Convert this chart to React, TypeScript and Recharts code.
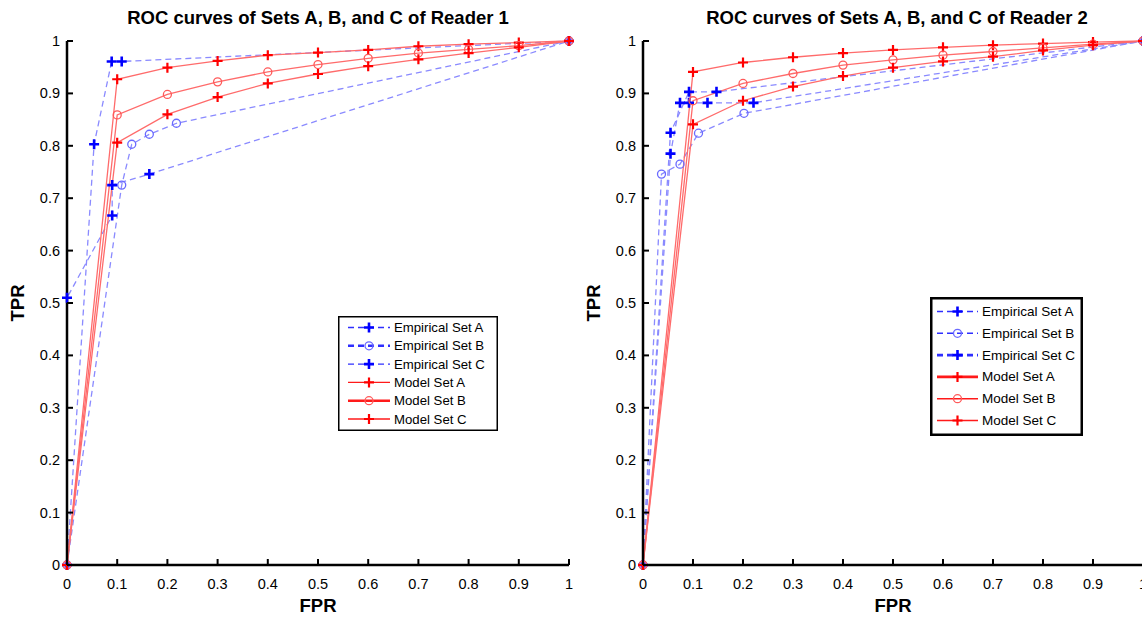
import { Legend, Line, LineChart, XAxis, YAxis } from "recharts"

const FONT = '"Liberation Sans", Arial, Helvetica, sans-serif'

const TICKS = [0, 0.1, 0.2, 0.3, 0.4, 0.5, 0.6, 0.7, 0.8, 0.9, 1]
const TICK_LABELS = ["0", "0.1", "0.2", "0.3", "0.4", "0.5", "0.6", "0.7", "0.8", "0.9", "1"]

const LEGEND_LABELS = [
  "Empirical Set A",
  "Empirical Set B",
  "Empirical Set C",
  "Model Set A",
  "Model Set B",
  "Model Set C",
]

// model curves share the same FPR grid
const MODEL_FPR = [0, 0.1, 0.2, 0.3, 0.4, 0.5, 0.6, 0.7, 0.8, 0.9, 1]

// Reader 1
const R1_MODEL_A = [0, 0.927, 0.949, 0.962, 0.973, 0.978, 0.983, 0.99, 0.994, 0.997, 1]
const R1_MODEL_B = [0, 0.859, 0.898, 0.922, 0.941, 0.955, 0.967, 0.977, 0.984, 0.991, 1]
const R1_MODEL_C = [0, 0.806, 0.86, 0.893, 0.919, 0.937, 0.952, 0.965, 0.977, 0.988, 1]
const R1_EMP_A: [number, number][] = [[0, 0], [0.054, 0.803], [0.089, 0.961], [0.109, 0.961], [1, 1]]
const R1_EMP_B: [number, number][] = [[0, 0], [0.109, 0.725], [0.129, 0.803], [0.164, 0.822], [0.218, 0.843], [1, 1]]
const R1_EMP_C: [number, number][] = [[0, 0], [0, 0.51], [0.09, 0.667], [0.09, 0.725], [0.164, 0.746], [1, 1]]

// Reader 2
const R2_MODEL_A = [0, 0.941, 0.959, 0.969, 0.977, 0.983, 0.988, 0.992, 0.995, 0.998, 1]
const R2_MODEL_B = [0, 0.886, 0.919, 0.938, 0.954, 0.964, 0.973, 0.98, 0.987, 0.994, 1]
const R2_MODEL_C = [0, 0.841, 0.886, 0.913, 0.933, 0.949, 0.961, 0.97, 0.982, 0.992, 1]
const R2_EMP_A: [number, number][] = [[0, 0], [0.055, 0.785], [0.074, 0.882], [0.092, 0.882], [0.129, 0.882], [0.221, 0.882], [1, 1]]
const R2_EMP_B: [number, number][] = [[0, 0], [0.037, 0.746], [0.074, 0.765], [0.111, 0.824], [0.202, 0.862], [1, 1]]
const R2_EMP_C: [number, number][] = [[0, 0], [0.055, 0.825], [0.092, 0.903], [0.147, 0.903], [1, 1]]

const BLUE = "#0000ff"
const BLUE_LINE = "#8a8aff"
const RED = "#ff0000"
const RED_LINE = "#ff6b6b"

type Marker = "plus" | "circle"
type Series = { name: string; data: { x: number; y: number }[]; emp: boolean; marker: Marker; legendWidth: number }

const pairs = (pts: [number, number][]) => pts.map(([x, y]) => ({ x, y }))
const model = (tpr: number[]) => MODEL_FPR.map((x, i) => ({ x, y: tpr[i] }))

function makeSeries(emp: [number, number][][], mod: number[][], widths: number[]): Series[] {
  const markers: Marker[] = ["plus", "circle", "plus"]
  return [
    ...emp.map((d, i) => ({ name: LEGEND_LABELS[i], data: pairs(d), emp: true, marker: markers[i], legendWidth: widths[i] })),
    ...mod.map((d, i) => ({ name: LEGEND_LABELS[i + 3], data: model(d), emp: false, marker: markers[i], legendWidth: widths[i + 3] })),
  ]
}

const R1_SERIES = makeSeries([R1_EMP_A, R1_EMP_B, R1_EMP_C], [R1_MODEL_A, R1_MODEL_B, R1_MODEL_C], [1.4, 2.6, 1.4, 1.4, 2.6, 1.4])
const R2_SERIES = makeSeries([R2_EMP_A, R2_EMP_B, R2_EMP_C], [R2_MODEL_A, R2_MODEL_B, R2_MODEL_C], [1.4, 1.4, 2.6, 2.6, 1.4, 1.4])

function MarkerShape({ cx, cy, marker, color, emp }: { cx: number; cy: number; marker: Marker; color: string; emp: boolean }) {
  if (marker === "circle")
    return <circle cx={cx} cy={cy} r={4} fill="none" stroke={emp ? "#6a6aff" : "#ff5a5a"} strokeWidth={1.3} />
  const s = 5
  return <path d={`M${cx - s},${cy}H${cx + s}M${cx},${cy - s}V${cy + s}`} stroke={color} strokeWidth={emp ? 2.6 : 2.2} />
}

function dotRenderer(marker: Marker, emp: boolean) {
  return (p: any) => {
    const { cx, cy, index } = p
    if (cx == null || cy == null) return <g key={index} />
    return (
      <g key={index}>
        <MarkerShape cx={cx} cy={cy} marker={marker} color={emp ? BLUE : RED} emp={emp} />
      </g>
    )
  }
}

function BottomTick(props: any) {
  const { x, y, index } = props
  return (
    <g>
      <line x1={x} y1={y} x2={x} y2={y - 6} stroke="#000" strokeWidth={2} />
      <text x={x} y={y + 24} textAnchor="middle" fontSize={14.5} fontFamily={FONT} fill="#000">
        {TICK_LABELS[index]}
      </text>
    </g>
  )
}

function TopTick(props: any) {
  const { x, y } = props
  return <line x1={x} y1={y} x2={x} y2={y + 6} stroke="#000" strokeWidth={2} />
}

function LeftTick(props: any) {
  const { x, y, index } = props
  return (
    <g>
      <line x1={x} y1={y} x2={x + 6} y2={y} stroke="#000" strokeWidth={2} />
      <text x={x - 7} y={y + 5} textAnchor="end" fontSize={14.5} fontFamily={FONT} fill="#000">
        {TICK_LABELS[index]}
      </text>
    </g>
  )
}

function RightTick(props: any) {
  const { x, y } = props
  return <line x1={x} y1={y} x2={x - 6} y2={y} stroke="#000" strokeWidth={2} />
}

type LegendBoxProps = {
  series: Series[]
  width: number
  height: number
  rowGap: number
  firstRow: number
  lineFrom: number
  lineTo: number
  textX: number
  border: number
  fontSize: number
}

function LegendBox({ series, width, height, rowGap, firstRow, lineFrom, lineTo, textX, border, fontSize }: LegendBoxProps) {
  const mid = (lineFrom + lineTo) / 2
  return (
    <svg width={width} height={height} style={{ display: "block" }}>
      <rect x={border / 2} y={border / 2} width={width - border} height={height - border} fill="#fff" stroke="#000" strokeWidth={border} />
      {series.map((s, i) => {
        const y = firstRow + i * rowGap
        const color = s.emp ? "#2f2fff" : "#ff1a1a"
        return (
          <g key={s.name}>
            <line x1={lineFrom} y1={y} x2={lineTo} y2={y} stroke={color} strokeWidth={s.legendWidth} strokeDasharray={s.emp ? "6 4" : undefined} />
            <MarkerShape cx={mid} cy={y} marker={s.marker} color={s.emp ? BLUE : RED} emp={s.emp} />
            <text x={textX} y={y + 4.5} fontSize={fontSize} fontFamily={FONT} fill="#000">
              {s.name}
            </text>
          </g>
        )
      })}
    </svg>
  )
}

type PanelProps = {
  left: number
  rightMargin: number
  title: string
  titleX: number
  series: Series[]
  legend: Omit<LegendBoxProps, "series"> & { left: number; top: number }
}

function Panel({ left, rightMargin, title, titleX, series, legend }: PanelProps) {
  const { left: lgLeft, top: lgTop, ...lg } = legend
  const plotLeft = 67
  const plotCenter = plotLeft + (600 - plotLeft - rightMargin) / 2
  const bold = { fontFamily: FONT, fontWeight: "bold" as const, fontSize: 18.5, lineHeight: "22px" }
  return (
    <div style={{ position: "absolute", left, top: 0, width: 600, height: 619 }}>
      <LineChart width={600} height={619} margin={{ top: 41, right: rightMargin, bottom: 0, left: 0 }}>
        <XAxis
          xAxisId="b"
          type="number"
          dataKey="x"
          domain={[0, 1]}
          ticks={TICKS}
          height={54}
          tickSize={0}
          tickMargin={0}
          tickLine={false}
          axisLine={{ stroke: "#000", strokeWidth: 2.5 }}
          tick={<BottomTick />}
          interval={0}
        />
        <XAxis
          xAxisId="t"
          orientation="top"
          type="number"
          dataKey="x"
          domain={[0, 1]}
          ticks={TICKS}
          height={0}
          tickSize={0}
          tickMargin={0}
          tickLine={false}
          axisLine={{ stroke: "#000", strokeWidth: 2 }}
          tick={<TopTick />}
          interval={0}
        />
        <YAxis
          yAxisId="l"
          type="number"
          domain={[0, 1]}
          ticks={TICKS}
          width={plotLeft}
          tickSize={0}
          tickMargin={0}
          tickLine={false}
          axisLine={{ stroke: "#000", strokeWidth: 2.5 }}
          tick={<LeftTick />}
          interval={0}
        />
        <YAxis
          yAxisId="r"
          orientation="right"
          type="number"
          domain={[0, 1]}
          ticks={TICKS}
          width={0}
          tickSize={0}
          tickMargin={0}
          tickLine={false}
          axisLine={{ stroke: "#000", strokeWidth: 2 }}
          tick={<RightTick />}
          interval={0}
        />
        {series.map((s) => (
          <Line
            key={s.name}
            xAxisId="b"
            yAxisId="l"
            data={s.data}
            dataKey="y"
            name={s.name}
            type="linear"
            stroke={s.emp ? BLUE_LINE : RED_LINE}
            strokeWidth={1.3}
            strokeDasharray={s.emp ? "6 4" : undefined}
            dot={dotRenderer(s.marker, s.emp)}
            activeDot={false}
            isAnimationActive={false}
          />
        ))}
        <Legend
          layout="vertical"
          align="center"
          verticalAlign="middle"
          wrapperStyle={{ left: lgLeft, top: lgTop, width: lg.width, height: lg.height }}
          content={() => <LegendBox series={series} {...lg} />}
        />
      </LineChart>
      <div style={{ ...bold, position: "absolute", left: titleX - 300, width: 600, top: 7, textAlign: "center" }}>{title}</div>
      <div style={{ ...bold, position: "absolute", left: plotCenter - 50, width: 100, top: 595, textAlign: "center" }}>FPR</div>
      <div
        style={{
          ...bold,
          position: "absolute",
          left: -32,
          top: 292,
          width: 100,
          textAlign: "center",
          transform: "rotate(-90deg)",
        }}
      >
        TPR
      </div>
    </div>
  )
}

export default function App() {
  return (
    <div style={{ position: "fixed", left: 0, top: 0, width: 1142, height: 619, overflow: "hidden", background: "#fff" }}>
      <Panel
        left={0}
        rightMargin={31}
        title="ROC curves of Sets A, B, and C of Reader 1"
        titleX={318}
        series={R1_SERIES}
        legend={{ left: 338, top: 316, width: 160, height: 115, rowGap: 18.3, firstRow: 11.5, lineFrom: 10, lineTo: 52, textX: 56, border: 1.5, fontSize: 13.2 }}
      />
      <Panel
        left={576}
        rightMargin={33}
        title="ROC curves of Sets A, B, and C of Reader 2"
        titleX={321}
        series={R2_SERIES}
        legend={{ left: 354, top: 297, width: 153, height: 139, rowGap: 21.8, firstRow: 14.5, lineFrom: 7, lineTo: 48, textX: 52, border: 2.5, fontSize: 13.5 }}
      />
    </div>
  )
}
